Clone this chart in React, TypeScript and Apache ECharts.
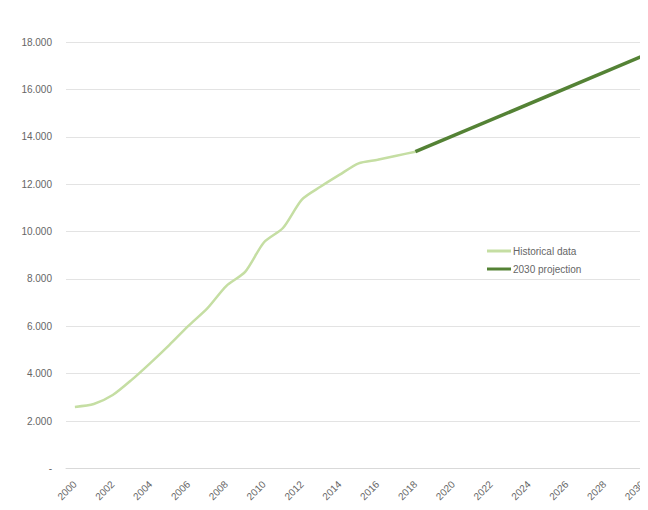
import React, { useEffect, useRef } from "react";
import * as echarts from "echarts";

// Historical series, one value per year 2000–2018
const histYears = [2000, 2001, 2002, 2003, 2004, 2005, 2006, 2007, 2008, 2009, 2010, 2011, 2012, 2013, 2014, 2015, 2016, 2017, 2018];
const histValues = [2600, 2720, 3100, 3740, 4460, 5220, 6020, 6760, 7700, 8300, 9550, 10150, 11350, 11900, 12400, 12880, 13030, 13200, 13370];

// Straight-line projection from 2018 to 2030
const projYears = [2018, 2030];
const projValues = [13370, 17400];

const xTickYears = [2000, 2002, 2004, 2006, 2008, 2010, 2012, 2014, 2016, 2018, 2020, 2022, 2024, 2026, 2028, 2030];

const seriesNames = ["Historical data", "2030 projection"];

const FONT = "Liberation Sans, Arial, sans-serif";
const LABEL = "#666666";

function fmtThousands(v: number): string {
  if (v === 0) return "-";
  return String(v).replace(/\B(?=(\d{3})+(?!\d))/g, ".");
}

export default function App() {
  const ref = useRef<HTMLDivElement>(null);

  useEffect(() => {
    if (!ref.current) return;
    const chart = echarts.init(ref.current, undefined, { renderer: "svg" });
    chart.setOption({
      animation: false,
      backgroundColor: "#ffffff",
      grid: { left: 66, right: 1, top: 42, bottom: 41.5, containLabel: false },
      legend: {
        orient: "vertical",
        left: 482,
        top: 241,
        itemWidth: 24,
        itemHeight: 3,
        itemGap: 8,
        icon: "rect",
        textStyle: { fontFamily: FONT, fontSize: 10, color: LABEL, padding: [0, 0, 0, -3] },
        data: seriesNames,
      },
      xAxis: {
        type: "value",
        min: 1999.53,
        max: 2030,
        axisLine: { show: true, lineStyle: { color: "#d9d9d9", width: 1 } },
        axisTick: { show: false },
        splitLine: { show: false },
        axisLabel: {
          customValues: xTickYears,
          rotate: 45,
          margin: 14,
          fontFamily: FONT,
          fontSize: 10,
          color: LABEL,
          formatter: (v: number) => String(Math.round(v)),
        },
      },
      yAxis: {
        type: "value",
        min: 0,
        max: 18000,
        interval: 2000,
        axisLine: { show: false },
        axisTick: { show: false },
        splitLine: { lineStyle: { color: "#e3e3e3", width: 1 } },
        axisLabel: {
          margin: 14,
          fontFamily: FONT,
          fontSize: 10,
          color: LABEL,
          formatter: (v: number) => fmtThousands(v),
        },
      },
      series: [
        {
          name: seriesNames[0],
          type: "line",
          smooth: 0.25,
          showSymbol: false,
          data: histYears.map((y, i) => [y, histValues[i]]),
          lineStyle: { color: "#c5dea3", width: 2.5 },
          itemStyle: { color: "#c5dea3" },
          z: 2,
        },
        {
          name: seriesNames[1],
          type: "line",
          showSymbol: false,
          data: projYears.map((y, i) => [y, projValues[i]]),
          lineStyle: { color: "#548235", width: 3.5 },
          itemStyle: { color: "#548235" },
          z: 3,
        },
      ],
    });
    return () => chart.dispose();
  }, []);

  return <div ref={ref} style={{ width: 648, height: 510, marginLeft: -8, marginTop: -8 }} />;
}
